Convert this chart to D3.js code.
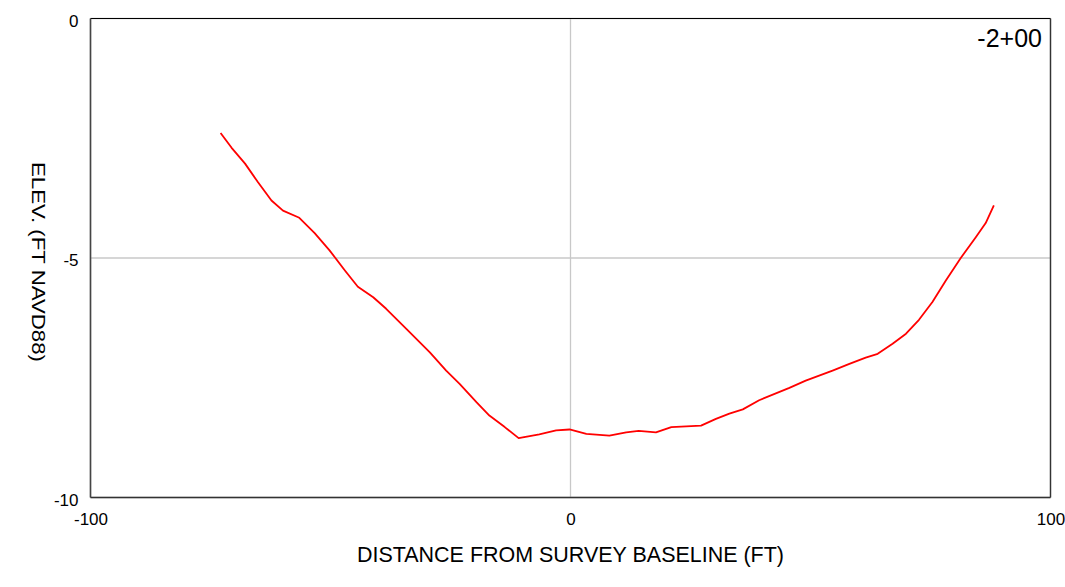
<!DOCTYPE html>
<html><head><meta charset="utf-8">
<script src="https://cdn.jsdelivr.net/npm/d3@7"></script>
<style>body{margin:0;background:#fff}svg{display:block}text{font-family:"Liberation Sans",Arial,sans-serif}</style>
</head><body><svg id="c" width="1065" height="587"></svg>
<script>
const distance = [-72.9,-70.6,-67.8,-65.1,-62.3,-59.9,-56.5,-53.3,-50.2,-47.0,-44.3,-41.1,-38.4,-34.2,-29.3,-25.9,-23.1,-19.6,-16.9,-13.7,-10.8,-6.5,-3.0,-0.2,3.3,8.1,11.6,14.2,17.8,21.0,27.2,30.3,33.1,35.9,39.3,45.6,49.0,54.6,58.1,61.5,64.0,67.1,69.9,72.6,75.4,78.2,81.3,84.4,86.5,88.2];
const elevation = [-2.39,-2.70,-3.03,-3.42,-3.80,-4.01,-4.16,-4.48,-4.84,-5.26,-5.60,-5.82,-6.06,-6.48,-6.97,-7.35,-7.63,-8.01,-8.29,-8.53,-8.76,-8.68,-8.60,-8.58,-8.67,-8.71,-8.64,-8.61,-8.64,-8.53,-8.50,-8.36,-8.25,-8.16,-7.97,-7.71,-7.56,-7.35,-7.21,-7.08,-7.00,-6.79,-6.58,-6.29,-5.92,-5.47,-5.00,-4.57,-4.27,-3.90];
const xTicks = [-100, 0, 100];
const yTicks = [0, -5, -10];
const stationLabel = "-2+00";
const xTitle = "DISTANCE FROM SURVEY BASELINE (FT)";
const yTitle = "ELEV. (FT NAVD88)";

const svg = d3.select("#c");
const L = 90.5, R = 1050.5, T = 18.5, B = 497.5;
const x = d3.scaleLinear().domain([-100, 100]).range([L, R]);
const y = d3.scaleLinear().domain([-10, 0]).range([B, T]);
const fmt = d => String(d);

// grid
svg.append("g").selectAll("line").data(xTicks).join("line")
  .attr("x1", d => x(d)).attr("x2", d => x(d)).attr("y1", T).attr("y2", B)
  .attr("stroke", "#c8c8c8").attr("stroke-width", 1.3);
svg.append("g").selectAll("line").data(yTicks).join("line")
  .attr("x1", L).attr("x2", R).attr("y1", d => y(d)).attr("y2", d => y(d))
  .attr("stroke", "#c8c8c8").attr("stroke-width", 1.3);

// frame
svg.append("line").attr("x1", L).attr("x2", R).attr("y1", T).attr("y2", T).attr("stroke", "#000").attr("stroke-width", 1);
svg.append("line").attr("x1", R).attr("x2", R).attr("y1", T).attr("y2", B).attr("stroke", "#333").attr("stroke-width", 1.4);
svg.append("line").attr("x1", L).attr("x2", L).attr("y1", T).attr("y2", B).attr("stroke", "#444").attr("stroke-width", 1.6);
svg.append("line").attr("x1", L).attr("x2", R).attr("y1", B).attr("y2", B).attr("stroke", "#333").attr("stroke-width", 1.6);

// axes labels
const xa = d3.axisBottom(x).tickValues(xTicks).tickSize(0).tickFormat(fmt);
const gx = svg.append("g").attr("transform", `translate(0,${B})`).call(xa);
gx.select(".domain").remove();
gx.selectAll("text").attr("font-size", 17).attr("fill", "#000").attr("y", 27.5).attr("dy", 0);

const ya = d3.axisLeft(y).tickValues(yTicks).tickSize(0).tickFormat(fmt);
const gy = svg.append("g").attr("transform", `translate(${L},0)`).call(ya);
gy.select(".domain").remove();
gy.selectAll("text").attr("font-size", 17).attr("fill", "#000").attr("x", -12).attr("dy", "0.45em");

// line
const line = d3.line().x((d, i) => x(distance[i])).y((d, i) => y(elevation[i]));
svg.append("path").datum(distance).attr("d", line).attr("fill", "none")
  .attr("stroke", "#ff0000").attr("stroke-width", 1.8).attr("stroke-linejoin", "round");

// titles
svg.append("text").attr("x", 357).attr("y", 561.5)
  .attr("font-size", 22).attr("textLength", 427).attr("lengthAdjust", "spacingAndGlyphs")
  .attr("fill", "#000").text(xTitle);
svg.append("text").attr("transform", `translate(32,162) rotate(90)`)
  .attr("font-size", 19).attr("textLength", 200).attr("lengthAdjust", "spacingAndGlyphs")
  .attr("fill", "#000").text(yTitle);
svg.append("text").attr("x", 1042).attr("y", 47).attr("text-anchor", "end")
  .attr("font-size", 25).attr("fill", "#000").text(stationLabel);
</script></body></html>
